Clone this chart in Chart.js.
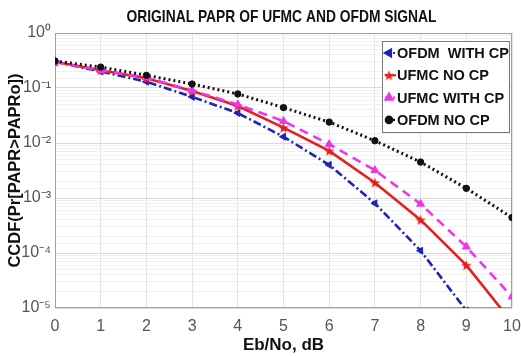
<!DOCTYPE html>
<html>
<head>
<meta charset="utf-8">
<script src="https://cdn.jsdelivr.net/npm/chart.js@4.4.1/dist/chart.umd.min.js"></script>
<style>
  html, body { margin: 0; padding: 0; background: #fff; }
  #wrap { width: 521px; height: 356px; position: relative; }
</style>
</head>
<body>
<div id="wrap"><canvas id="c" width="521" height="356"></canvas></div>
<script>
// ---- data ----
const titleText = "ORIGINAL PAPR OF UFMC AND OFDM SIGNAL";
const xTitle = "Eb/No, dB";
const yTitle = "CCDF(Pr[PAPR>PAPRo])";
const ebNo = [0, 1, 2, 3, 4, 5, 6, 7, 8, 9, 10];
const seriesNames = ["OFDM  WITH CP", "UFMC NO CP", "UFMC WITH CP", "OFDM NO CP"];
const ofdmWithCP = [0.30, 0.20, 0.13, 0.069, 0.035, 0.013, 0.0040, 0.00080, 0.00011, 0.0000090, 0.0000004];
const ufmcNoCP   = [0.30, 0.21, 0.15, 0.088, 0.047, 0.019, 0.0072, 0.0019, 0.00040, 0.000060, 0.0000055];
const ufmcWithCP = [0.30, 0.21, 0.155, 0.090, 0.050, 0.025, 0.0095, 0.0032, 0.00078, 0.00013, 0.000016];
const ofdmNoCP   = [0.31, 0.24, 0.17, 0.118, 0.078, 0.044, 0.024, 0.011, 0.0045, 0.0015, 0.00044];
const yTickPowers = [0, -1, -2, -3, -4, -5];
const xTicks = [0, 1, 2, 3, 4, 5, 6, 7, 8, 9, 10];

const SUP = {"0":"⁰","1":"¹","2":"²","3":"³","4":"⁴","5":"⁵","6":"⁶","7":"⁷","8":"⁸","9":"⁹","-":"⁻"};
function supText(n){ return String(n).split('').map(ch => SUP[ch]).join(''); }

const FONT = "'Liberation Sans Narrow', 'Liberation Sans', Arial, sans-serif";

// red pentagram marker
function makeStar(color, size){
  const c = document.createElement('canvas');
  c.width = size; c.height = size;
  const g = c.getContext('2d');
  const cx = size/2, cy = size/2 + 0.5, R = size/2, r = R*0.42;
  g.beginPath();
  for (let i = 0; i < 10; i++){
    const rad = (i % 2 === 0) ? R : r;
    const a = -Math.PI/2 + i*Math.PI/5;
    const px = cx + rad*Math.cos(a), py = cy + rad*Math.sin(a);
    if (i === 0) g.moveTo(px, py); else g.lineTo(px, py);
  }
  g.closePath();
  g.fillStyle = color; g.fill();
  return c;
}
const starImg = makeStar('#e3201e', 11);

const toPts = vals => ebNo.map((x, i) => ({x: x, y: vals[i]}));

const datasets = [
  { label: seriesNames[0], data: toPts(ofdmWithCP), borderColor: '#1d22b8', backgroundColor: '#1d22b8',
    borderWidth: 2.6, borderDash: [8, 3, 2, 3], pointStyle: 'triangle', pointRotation: -90, pointRadius: 4,
    pointBorderWidth: 1 },
  { label: seriesNames[1], data: toPts(ufmcNoCP), borderColor: '#e3201e', backgroundColor: '#e3201e',
    borderWidth: 2.6, borderDash: [], pointStyle: starImg, pointRadius: 5, pointBorderWidth: 0 },
  { label: seriesNames[2], data: toPts(ufmcWithCP), borderColor: '#ee35e8', backgroundColor: '#ee35e8',
    borderWidth: 2.6, borderDash: [9, 6], pointStyle: 'triangle', pointRotation: 0, pointRadius: 4.5,
    pointBorderWidth: 1 },
  { label: seriesNames[3], data: toPts(ofdmNoCP), borderColor: '#111111', backgroundColor: '#111111',
    borderWidth: 3, borderDash: [2, 3], pointStyle: 'circle', pointRadius: 3.2, pointBorderWidth: 1 }
];
datasets.forEach((d, i) => { d.order = 4 - i; d.tension = 0; d.fill = false; d.borderCapStyle = 'butt'; });

function fitText(ctx, text, cx, cy, targetW){
  const w = ctx.measureText(text).width;
  const s = Math.min(1, targetW / w);
  ctx.save();
  ctx.translate(cx, cy);
  ctx.scale(s, 1);
  ctx.textAlign = 'center'; ctx.textBaseline = 'middle';
  ctx.fillText(text, 0, 0);
  ctx.restore();
}

const decorPlugin = {
  id: 'decor',
  beforeDatasetsDraw(chart){
    const {ctx, chartArea: a} = chart;
    ctx.save();
    ctx.strokeStyle = '#a0a0a0'; ctx.lineWidth = 1;
    ctx.strokeRect(a.left + 0.5, a.top + 0.5, a.right - a.left - 1, a.bottom - a.top - 1);
    ctx.restore();
  },
  afterDraw(chart){
    const {ctx, chartArea: a} = chart;
    ctx.save();
    // title
    ctx.fillStyle = '#111';
    ctx.font = "bold 17px " + FONT;
    fitText(ctx, titleText, (a.left + a.right)/2 - 2, 17, 310);
    // legend
    const bx = a.right - 130, by = a.top + 8, bw = 127, bh = 91;
    ctx.fillStyle = '#fff';
    ctx.fillRect(bx, by, bw, bh);
    ctx.strokeStyle = '#7a7a7a'; ctx.lineWidth = 1;
    ctx.strokeRect(bx + 0.5, by + 0.5, bw, bh);
    const rowH = 22.3;
    chart.data.datasets.forEach((d, i) => {
      const y = by + 12 + i*rowH;
      const x0 = bx + 3, x1 = bx + 14;
      ctx.save();
      ctx.strokeStyle = d.borderColor; ctx.lineWidth = 2.2;
      ctx.setLineDash(d.borderDash && d.borderDash.length ? [2, 2] : []);
      ctx.beginPath(); ctx.moveTo(x0, y); ctx.lineTo(x1, y); ctx.stroke();
      ctx.setLineDash([]);
      ctx.fillStyle = d.backgroundColor; ctx.strokeStyle = d.borderColor;
      Chart.helpers.drawPoint(ctx, {pointStyle: d.pointStyle, rotation: d.pointRotation || 0,
        radius: Math.min(d.pointRadius, 4), borderWidth: d.pointBorderWidth}, x0 + 4, y);
      ctx.restore();
      ctx.fillStyle = '#111';
      ctx.font = "bold 14.5px " + FONT;
      ctx.textAlign = 'left'; ctx.textBaseline = 'middle';
      ctx.fillText(d.label, bx + 15, y + 1);
    });
    ctx.restore();
  }
};

new Chart(document.getElementById('c'), {
  type: 'line',
  data: { datasets: datasets },
  plugins: [decorPlugin],
  options: {
    responsive: false,
    animation: false,
    layout: { padding: { top: 33, right: 0, left: 0, bottom: 0 } },
    plugins: { legend: { display: false }, title: { display: false }, tooltip: { enabled: false } },
    scales: {
      x: {
        type: 'linear', min: 0, max: 10,
        afterBuildTicks: s => { s.ticks = xTicks.map(v => ({value: v})); },
        afterFit: s => { s.height = 48; s.paddingRight = 9; s.paddingLeft = 0; },
        grid: { color: '#e3e3e3', drawTicks: false, lineWidth: 1 },
        border: { display: false },
        ticks: { color: '#555', padding: 9, font: { family: FONT, size: 16 }, autoSkip: false, maxRotation: 0 },
        title: { display: true, text: xTitle, color: '#111', font: { family: FONT, size: 17, weight: 'bold' }, padding: { top: 3, bottom: 0 } }
      },
      y: {
        type: 'logarithmic', min: 1e-5, max: 1,
        afterFit: s => { s.width = 55; },
        grid: {
          drawTicks: false,
          color: c => {
            const v = c.tick ? c.tick.value : 0;
            const l = Math.log10(v);
            return Math.abs(l - Math.round(l)) < 1e-6 ? '#dadada' : '#f0f0f0';
          },
          lineWidth: 1
        },
        border: { display: false },
        ticks: {
          color: '#555', padding: 4, autoSkip: false,
          font: { family: FONT, size: 16 },
          callback: (v) => {
            const l = Math.log10(v);
            if (Math.abs(l - Math.round(l)) < 1e-6 && yTickPowers.includes(Math.round(l))) return '10' + supText(Math.round(l));
            return '';
          }
        },
        title: { display: true, text: yTitle, color: '#111', font: { family: "'Liberation Sans', Arial, sans-serif", size: 16.5, weight: 'bold' }, padding: { top: 6, bottom: 0 } }
      }
    }
  }
});
</script>
</body>
</html>
